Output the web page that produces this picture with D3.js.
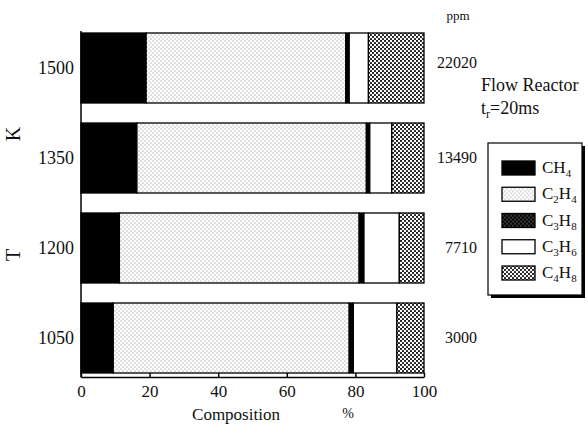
<!DOCTYPE html>
<html>
<head>
<meta charset="utf-8">
<script src="https://cdn.jsdelivr.net/npm/d3@7"></script>
<style>
  body { margin: 0; background: #fff; }
  text { font-family: "Liberation Serif", "DejaVu Serif", serif; fill: #111; }
</style>
</head>
<body>
<svg id="frame" width="588" height="435"></svg>
<script>
// temperatures (K), top to bottom, and the feed ppm written at the right
const temps = ["1500", "1350", "1200", "1050"];
const ppm = ["22020", "13490", "7710", "3000"];

// species in stacking order (left to right)
const species = ["CH4", "C2H4", "C3H8", "C3H6", "C4H8"];

// composition in %, one value per temperature
const ch4  = [19.0, 16.3, 11.2, 9.4];
const c2h4 = [58.2, 66.9, 69.9, 68.8];
const c3h8 = [1.0, 1.0, 1.4, 1.2];
const c3h6 = [5.6, 6.4, 10.3, 12.7];
const c4h8 = [16.2, 9.4, 7.2, 7.9];

const xTicks = [0, 20, 40, 60, 80, 100];

// labels with subscripts
const speciesLabel = {
  CH4: ["CH", "4"],
  C2H4: ["C", "2", "H", "4"],
  C3H8: ["C", "3", "H", "8"],
  C3H6: ["C", "3", "H", "6"],
  C4H8: ["C", "4", "H", "8"]
};

const rows = temps.map((t, i) => ({
  temp: t, CH4: ch4[i], C2H4: c2h4[i], C3H8: c3h8[i], C3H6: c3h6[i], C4H8: c4h8[i]
}));

const svg = d3.select("#frame");

// fill patterns that imitate the printed screens
const defs = svg.append("defs");
function dotPattern(id, bg, dot, r) {
  let p = defs.append("pattern").attr("id", id)
    .attr("patternUnits", "userSpaceOnUse").attr("width", 4).attr("height", 4);
  p.append("rect").attr("width", 4).attr("height", 4).attr("fill", bg);
  p.append("circle").attr("cx", 1).attr("cy", 1).attr("r", r).attr("fill", dot);
  p.append("circle").attr("cx", 3).attr("cy", 3).attr("r", r).attr("fill", dot);
}
dotPattern("p-c2h4", "#fff", "#777", 0.6);
dotPattern("p-c3h8", "#000", "#fff", 0.55);
dotPattern("p-c4h8", "#fff", "#111", 1.1);

const fills = {
  CH4: "#000",
  C2H4: "url(#p-c2h4)",
  C3H8: "url(#p-c3h8)",
  C3H6: "#fff",
  C4H8: "url(#p-c4h8)"
};

const x = d3.scaleLinear().domain([0, 100]).range([81, 424]);
const y = d3.scaleBand().domain(temps).range([30, 376])
  .paddingInner(0.2222).paddingOuter(0.0333);

const stacked = d3.stack().keys(species)(rows);

// bars
svg.append("g").selectAll("g")
  .data(stacked)
  .join("g")
  .attr("fill", d => d.key === "C3H8" ? "#000" : fills[d.key])
  .selectAll("rect")
  .data(d => d)
  .join("rect")
  .attr("x", d => x(d[0]))
  .attr("y", d => y(d.data.temp))
  .attr("width", d => x(d[1]) - x(d[0]))
  .attr("height", y.bandwidth())
  .attr("stroke", "#000")
  .attr("stroke-width", 1.3);

// axes
const xAxis = svg.append("g").attr("transform", "translate(0,377)")
  .call(d3.axisBottom(x).tickValues(xTicks).tickSizeInner(-4).tickSizeOuter(0).tickPadding(8));
xAxis.select(".domain").attr("stroke", "#000").attr("stroke-width", 1.5);
xAxis.selectAll(".tick line").attr("stroke", "#000").attr("stroke-width", 1.5);
xAxis.selectAll(".tick text").attr("font-size", 17)
  .attr("font-family", "Liberation Serif").attr("fill", "#111");

svg.append("line")
  .attr("x1", 81).attr("x2", 81).attr("y1", 31).attr("y2", 377.5)
  .attr("stroke", "#000").attr("stroke-width", 1.5);

// temperature labels
svg.append("g").selectAll("text")
  .data(temps)
  .join("text")
  .attr("x", 74)
  .attr("y", d => y(d) + y.bandwidth() / 2 + 6)
  .attr("text-anchor", "end")
  .attr("font-size", 18)
  .text(d => d);

// ppm labels
svg.append("text").attr("x", 458).attr("y", 20).attr("text-anchor", "middle")
  .attr("font-size", 13).text("ppm");
svg.append("g").selectAll("text")
  .data(ppm)
  .join("text")
  .attr("x", 477)
  .attr("y", (d, i) => y(temps[i]) + y.bandwidth() / 2 + (i === 0 ? 0 : 5))
  .attr("text-anchor", "end")
  .attr("font-size", 16)
  .text(d => d);

// axis titles
svg.append("text").attr("x", 236).attr("y", 420).attr("text-anchor", "middle")
  .attr("font-size", 17).text("Composition");
svg.append("text").attr("x", 348).attr("y", 418).attr("text-anchor", "middle")
  .attr("font-size", 14).text("%");
svg.append("text").attr("transform", "translate(20,255) rotate(-90)")
  .attr("text-anchor", "middle").attr("font-size", 20).text("T");
svg.append("text").attr("transform", "translate(20,134) rotate(-90)")
  .attr("text-anchor", "middle").attr("font-size", 20).text("K");

// annotation
svg.append("text").attr("x", 481).attr("y", 91).attr("font-size", 18).text("Flow Reactor");
const tr = svg.append("text").attr("x", 481).attr("y", 114).attr("font-size", 18);
tr.append("tspan").text("t");
tr.append("tspan").attr("dy", 4).attr("font-size", 12).text("r");
tr.append("tspan").attr("dy", -4).text("=20ms");

// legend
const lg = svg.append("g");
lg.append("rect").attr("x", 491).attr("y", 146).attr("width", 94).attr("height", 152).attr("fill", "#000");
lg.append("rect").attr("x", 488).attr("y", 143).attr("width", 94).attr("height", 152)
  .attr("fill", "#fff").attr("stroke", "#000").attr("stroke-width", 1.2);

const ly = d3.scalePoint().domain(species).range([168, 273]);
const item = lg.selectAll("g.item")
  .data(species)
  .join("g")
  .attr("class", "item")
  .attr("transform", d => `translate(0,${ly(d)})`);
item.append("rect")
  .attr("x", 502).attr("y", -7).attr("width", 33).attr("height", 14)
  .attr("fill", d => fills[d]).attr("stroke", "#000").attr("stroke-width", 1.3);
item.each(function (d) {
  let t = d3.select(this).append("text").attr("x", 542).attr("y", 5).attr("font-size", 17);
  speciesLabel[d].forEach((s, k) => {
    let sub = k % 2 === 1;
    t.append("tspan")
      .attr("dy", sub ? 4 : (k > 0 ? -4 : 0))
      .attr("font-size", sub ? 11 : 17)
      .text(s);
  });
});
</script>
</body>
</html>
